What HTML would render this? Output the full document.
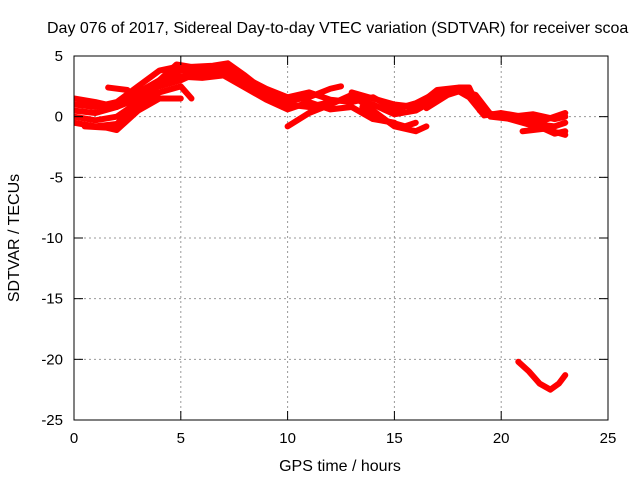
<!DOCTYPE html>
<html><head><meta charset="utf-8"><style>
body{margin:0;background:#fff;}
svg{display:block;font-family:"Liberation Sans",sans-serif;}
</style></head><body>
<svg id="chart" width="640" height="480">
<text x="47" y="33" font-size="16">Day 076 of 2017, Sidereal Day-to-day VTEC variation (SDTVAR) for receiver scoa</text>
<g id="grid"></g>
<g id="series" clip-path="url(#clip)"></g>
<clipPath id="clip"><rect x="74" y="56" width="534" height="364"/></clipPath>
<rect x="74" y="56" width="534" height="364" fill="none" stroke="#000" stroke-width="1"/>
<g id="ticks"></g>
<text x="340" y="471" font-size="16" text-anchor="middle">GPS time / hours</text>
<text transform="translate(19,238) rotate(-90)" font-size="16" text-anchor="middle">SDTVAR / TECUs</text>
</svg>
<script>
const xTicks=[0,5,10,15,20,25];
const yTicks=[5,0,-5,-10,-15,-20,-25];
const track1=[[0,1.5],[1,1.2],[2,0.8],[3,1.5],[4,3],[4.8,4.3],[5.5,4.1],[6.5,4.2],[7.2,4.4],[8,3.4],[9,2],[10,1.3],[11,1.6],[12,2.3],[12.5,2.5]];
const track2=[[0,0.5],[1,0.3],[2,0.8],[3,2],[4,3],[5,3.8],[6,3.5],[7,3.8],[8,2.8],[9,1.8],[10,1],[11,0.8],[12,1.2],[13,1.5],[14,1],[15,0.2],[16,0.5],[17,1.5],[18,2.2],[18.8,1.8],[19.5,0.2],[20.5,0],[21.5,0.2],[22.5,-0.2],[23,0]];
const track3=[[0,-0.5],[1,-0.8],[2,-0.6],[3,1],[4,2],[5,2.5],[5.5,1.5]];
const track4=[[0.5,-0.8],[1.5,-0.9],[2,-1.1],[3,0.5],[4,1.5],[5,1.5]];
const track5=[[10,-0.8],[11,0.3],[12,1],[13,1.8],[14,0.5],[15,-0.8],[16,-1.2],[16.5,-0.8]];
const track6=[[13,2],[14,1.5],[15,1],[16,0.8],[17,2.2],[18,2.4],[18.5,2.4],[19,0.5],[20,0],[21,-0.5],[22,-1],[22.5,-1.4],[23,-1.2]];
const track7=[[1.6,2.4],[2.5,2.2]];
const track8=[[13.5,0.8],[14.5,-0.3],[15.5,-0.8],[16,-0.5]];
const track9=[[4,2.5],[5,3],[6,3.8],[7,4]];
const track10=[[20.8,-20.2],[21.3,-21],[21.8,-22],[22.3,-22.5],[22.7,-22],[23,-21.3]];
const track11=[[0,0],[1,-0.3],[2,0],[3,1.2],[4,2.6],[5,3.3],[6,3.2],[7,3.4],[8,2.4],[9,1.4],[10,0.6],[11,1.2],[12,0.6],[13,0.8],[14,-0.2],[15,-0.5]];
const track12=[[0,1],[1,0.8],[2,1.2],[3,2.5],[4,3.8],[4.8,4.1],[6,4],[7,4.3],[8,3.2],[9,2.3],[10,1.6],[11,2],[12,1.4],[13,1.2],[14,1.6],[15,0.6],[16,1.1],[17,2],[18,2.1],[18.5,1.6],[19.2,0.1],[20,0.3],[21,0],[22,-0.3],[23,0.3]];
const track13=[[16.5,0.7],[17.5,1.8],[18.4,2.3],[19,1.2],[19.5,0],[20.5,-0.2],[21.5,-0.6],[22.5,-0.8],[23,-0.5]];
const track14=[[21,-1.2],[22,-1],[23,-1.5]];
const tracks=[track1,track2,track3,track4,track5,track6,track7,track8,track9,track10,track11,track12,track13,track14];
const X=v=>74+v*(534/25);
const Y=v=>56+(5-v)*(364/30);
const NS="http://www.w3.org/2000/svg";
const grid=document.getElementById('grid'),ticks=document.getElementById('ticks'),ser=document.getElementById('series');
function mk(tag,attrs,parent){const e=document.createElementNS(NS,tag);for(const k in attrs)e.setAttribute(k,attrs[k]);parent.appendChild(e);return e;}
xTicks.forEach(t=>{
  if(t>0&&t<25){const g=mk('line',{x1:X(t),x2:X(t),y1:56,y2:420,stroke:'#999','stroke-dasharray':'2,3'},grid);
  
  }
  const tk=mk('line',{x1:X(t),x2:X(t),y1:420,y2:411,stroke:'#000'},ticks);
  
  
  mk('line',{x1:X(t),x2:X(t),y1:56,y2:65,stroke:'#000'},ticks);
  const l=mk('text',{x:X(t),y:443,'font-size':15,'text-anchor':'middle'},ticks);l.textContent=t;
  
  
});
yTicks.forEach(t=>{
  if(t<5&&t>-25){const g=mk('line',{x1:74,x2:608,y1:Y(t),y2:Y(t),stroke:'#999','stroke-dasharray':'2,3'},grid);
  
  }
  const tk=mk('line',{x1:74,x2:83,y1:Y(t),y2:Y(t),stroke:'#000'},ticks);
  
  
  mk('line',{x1:599,x2:608,y1:Y(t),y2:Y(t),stroke:'#000'},ticks);
  const l=mk('text',{x:63,y:Y(t)+5,'font-size':15,'text-anchor':'end'},ticks);l.textContent=t;
  
  
});
tracks.forEach(tr=>{
  const p=mk('polyline',{points:tr.map(d=>X(d[0])+','+Y(d[1])).join(' '),fill:'none',stroke:'#f00','stroke-width':6,'stroke-linejoin':'round','stroke-linecap':'round'},ser);
  
  
});
</script>
</body></html>
